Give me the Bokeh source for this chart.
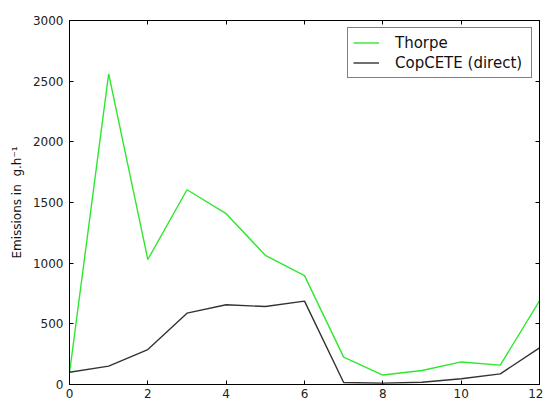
from bokeh.plotting import figure
from bokeh.models import LinearAxis, Legend, LegendItem, SingleIntervalTicker, Range1d
from bokeh.embed import file_html
from bokeh.resources import INLINE

hours = [0, 1, 2, 3, 4, 5, 6, 7, 8, 9, 10, 11, 12]
thorpe = [95, 2560, 1030, 1605, 1408, 1065, 897, 226, 78, 115, 186, 160, 690]
copcete = [101, 151, 288, 588, 657, 643, 687, 17, 11, 19, 47, 88, 302]

FONT = "DejaVu Sans"

p = figure(frame_width=470, frame_height=364, output_backend="svg", toolbar_location=None,
           x_range=Range1d(0, 12), y_range=Range1d(0, 3000),
           min_border_left=69, min_border_top=20, min_border_right=4, min_border_bottom=4)
p.grid.visible = False
p.outline_line_color = "black"
p.outline_line_width = 1

def style_axis(ax, labels=True):
    ax.major_tick_in = 4
    ax.major_tick_out = 0
    ax.minor_tick_in = 0
    ax.minor_tick_out = 0
    ax.axis_line_color = "black"
    ax.major_tick_line_color = "black"
    ax.major_label_text_font = FONT
    ax.major_label_text_font_size = "12px"
    ax.major_label_text_color = "#222222"
    ax.major_label_standoff = 6
    if not labels:
        ax.major_label_text_alpha = 0
        ax.major_label_text_font_size = "0px"

p.xaxis.ticker = SingleIntervalTicker(interval=2)
p.yaxis.ticker = SingleIntervalTicker(interval=500)
style_axis(p.xaxis[0])
style_axis(p.yaxis[0])
p.xaxis.major_label_standoff = 4
p.yaxis.axis_label = "Emissions in\u00a0\u00a0g.h\u207b\u00b9"
p.yaxis.axis_label_text_font = FONT
p.yaxis.axis_label_text_font_style = "normal"
p.yaxis.axis_label_text_font_size = "12px"
p.yaxis.axis_label_text_color = "#111111"
p.yaxis.axis_label_standoff = 6

top = LinearAxis(ticker=SingleIntervalTicker(interval=2))
style_axis(top, labels=False)
p.add_layout(top, "above")
right = LinearAxis(ticker=SingleIntervalTicker(interval=500))
style_axis(right, labels=False)
p.add_layout(right, "right")

r1 = p.line(hours, thorpe, line_color="#2ee82e", line_width=1.4)
r2 = p.line(hours, copcete, line_color="#333333", line_width=1.4)

legend = Legend(items=[LegendItem(label="Thorpe", renderers=[r1]),
                       LegendItem(label="CopCETE (direct)", renderers=[r2])],
                location="top_right")
legend.border_line_color = "black"
legend.border_line_width = 1
legend.label_text_font = FONT
legend.label_text_font_size = "15px"
legend.label_text_color = "#111111"
legend.glyph_width = 26
legend.glyph_height = 19
legend.label_width = 131
legend.spacing = 1
legend.padding = 5
legend.margin = 7
legend.label_standoff = 16
legend.label_height = 19
p.add_layout(legend, "center")

open("out.html", "w").write(file_html(p, INLINE))
